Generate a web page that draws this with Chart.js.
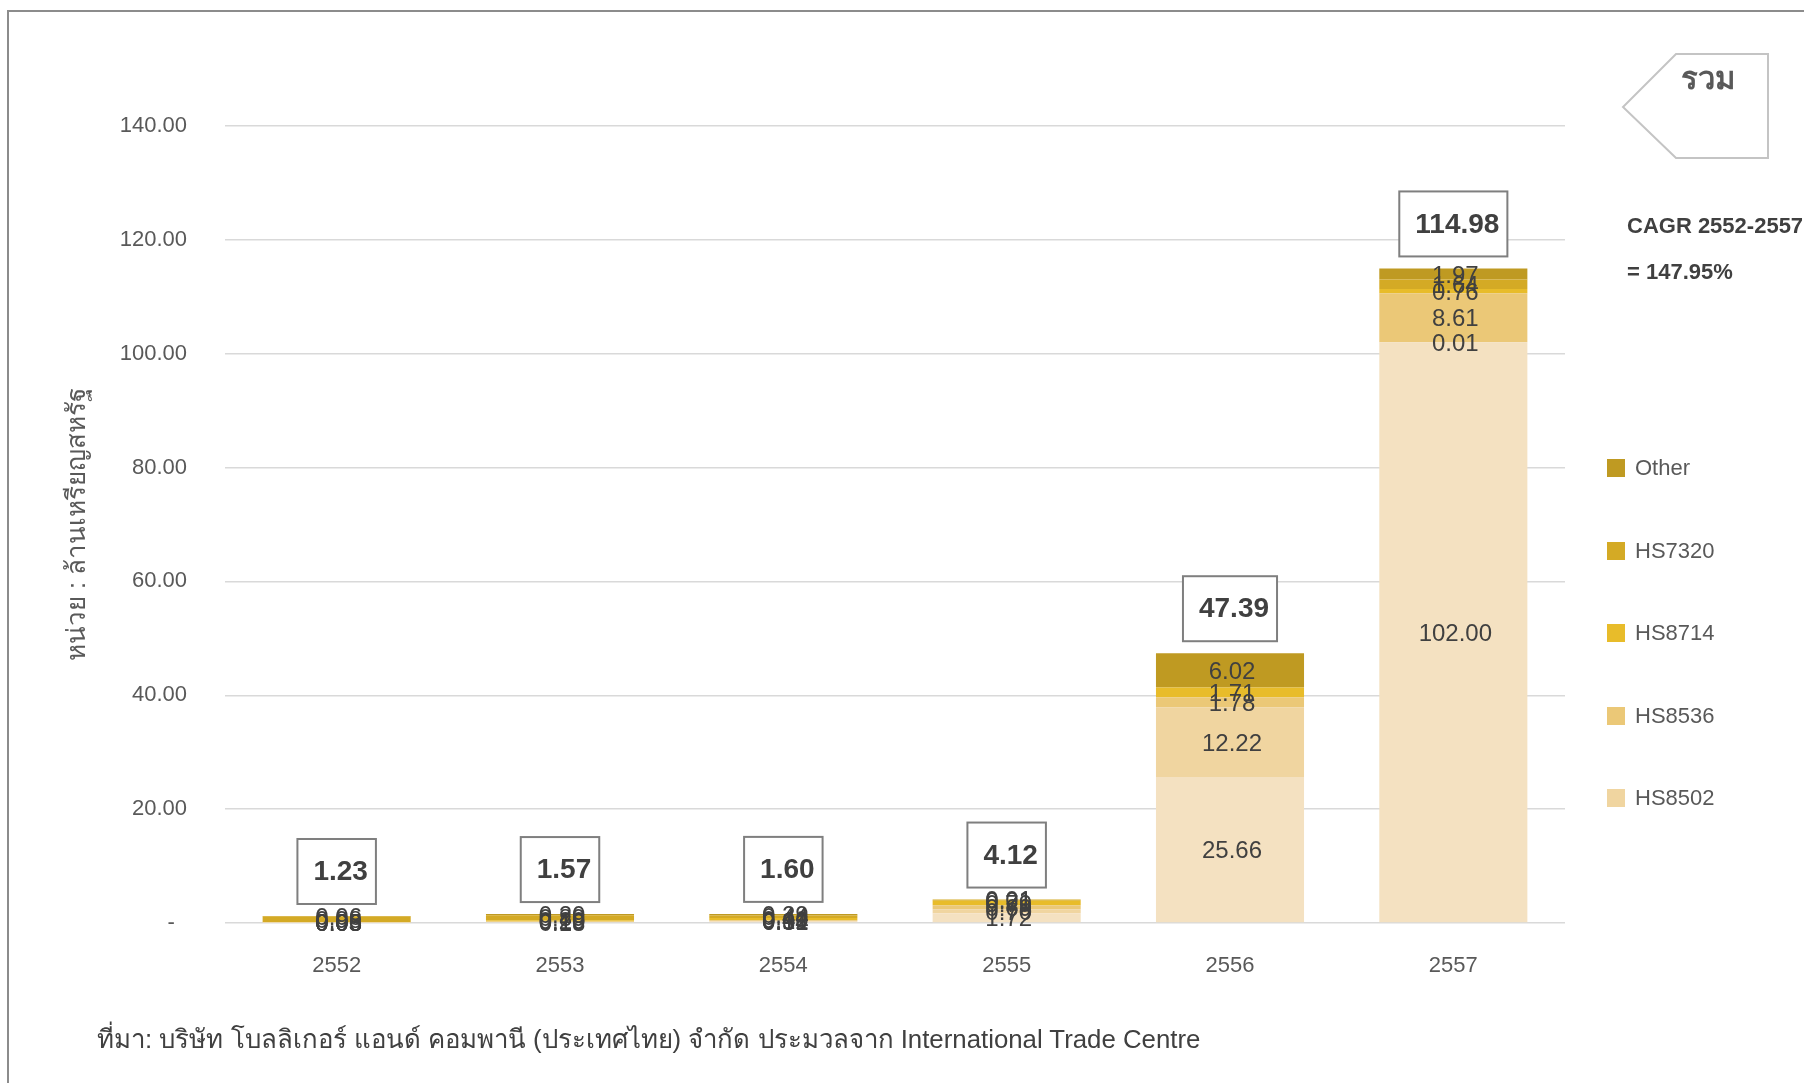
<!DOCTYPE html>
<html>
<head>
<meta charset="utf-8">
<script src="https://cdn.jsdelivr.net/npm/chart.js@4.4.0/dist/chart.umd.min.js"></script>
<style>
html, body { margin: 0; padding: 0; background: #fff; overflow: hidden; }
#wrap { position: relative; width: 1804px; height: 1083px; font-family: "Liberation Sans", Arial, sans-serif; }
#frame { position: absolute; left: 7px; top: 10px; width: 1830px; height: 1100px; border-left: 2px solid #8c8c8c; border-top: 2px solid #8c8c8c; }
#box { position: absolute; left: 0; top: 0; width: 1804px; height: 1083px; }
#tag { position: absolute; left: 1620px; top: 50px; }
#cagr { position: absolute; left: 1627px; top: 203px; font-size: 22px; font-weight: bold; color: #404040; line-height: 46px; white-space: nowrap; }
#legend { position: absolute; left: 1607px; top: 0; }
.item { position: absolute; left: 0; height: 26px; white-space: nowrap; font-size: 22px; color: #595959; }
.item span { display: inline-block; width: 18px; height: 18px; margin-right: 10px; vertical-align: -2px; }
#source { position: absolute; left: 97px; top: 1018px; font-size: 25.8px; color: #404040; white-space: nowrap; }
</style>
</head>
<body>
<div id="wrap">
  <div id="box"><canvas id="chart"></canvas></div>
  <div id="frame"></div>
  <svg id="tag" width="160" height="120">
    <polygon points="56,4 148,4 148,108 56,108 3,57" fill="#fff" stroke="#c4c4c4" stroke-width="2"/>
    <text x="88" y="39" text-anchor="middle" font-family="Liberation Sans, sans-serif" font-size="31" font-weight="bold" fill="#595959">รวม</text>
  </svg>
  <div id="cagr">CAGR 2552-2557<br>= 147.95%</div>
  <div id="legend"></div>
  <div id="source">ที่มา: บริษัท โบลลิเกอร์ แอนด์ คอมพานี (ประเทศไทย) จำกัด ประมวลจาก International Trade Centre</div>
</div>
<script>
const years = ['2552', '2553', '2554', '2555', '2556', '2557'];
const totals = [1.23, 1.57, 1.60, 4.12, 47.39, 114.98];
const base = [0.03, 0.18, 0.34, 1.72, 25.66, 102.00];
const hs8502 = [0.05, 0.00, 0.01, 0.70, 12.22, 0.01];
const hs8536 = [0.06, 0.10, 0.12, 0.69, 1.78, 8.61];
const hs8714 = [0.05, 0.20, 0.40, 0.79, 1.71, 0.76];
const hs7320 = [0.98, 0.89, 0.44, 0.21, 0.00, 1.64];
const other = [0.06, 0.20, 0.29, 0.01, 6.02, 1.97];
const yTicks = [0, 20, 40, 60, 80, 100, 120, 140];

const series = [
  { label: '', data: base, color: '#f4e1c1' },
  { label: 'HS8502', data: hs8502, color: '#f0d5a0' },
  { label: 'HS8536', data: hs8536, color: '#ebc877' },
  { label: 'HS8714', data: hs8714, color: '#e8bc2a' },
  { label: 'HS7320', data: hs7320, color: '#d4aa25' },
  { label: 'Other', data: other, color: '#bf9a22' }
];

const FONT = '"Liberation Sans", Arial, sans-serif';

// legend on the right, top item = last series
const legend = document.getElementById('legend');
let row = 0;
for (let i = series.length - 1; i >= 0; i--) {
  if (!series[i].label) continue;
  const d = document.createElement('div');
  d.className = 'item';
  d.style.top = (455 + row * 82.5) + 'px';
  d.innerHTML = '<span style="background:' + series[i].color + '"></span>' + series[i].label;
  legend.appendChild(d);
  row++;
}

const labels = {
  id: 'labels',
  afterDatasetsDraw(chart) {
    const ctx = chart.ctx;
    ctx.save();
    ctx.font = '24px ' + FONT;
    ctx.fillStyle = '#404040';
    ctx.textAlign = 'center';
    ctx.textBaseline = 'middle';
    chart.data.datasets.forEach((ds, di) => {
      chart.getDatasetMeta(di).data.forEach((bar, i) => {
        const v = ds.data[i];
        if (!v) return;
        const p = bar.getCenterPoint();
        ctx.fillText(v.toFixed(2), p.x + 2, p.y + 2);
      });
    });

    // boxed totals above each bar
    const xs = chart.scales.x, ys = chart.scales.y;
    ctx.font = 'bold 28px ' + FONT;
    totals.forEach((t, i) => {
      const txt = t.toFixed(2);
      const w = ctx.measureText(txt).width + 24;
      const cx = xs.getPixelForValue(i);
      const bottom = ys.getPixelForValue(t) - 12;
      const h = 65;
      ctx.fillStyle = '#fff';
      ctx.fillRect(cx - w / 2, bottom - h, w, h);
      ctx.strokeStyle = '#7f7f7f';
      ctx.lineWidth = 2;
      ctx.strokeRect(cx - w / 2, bottom - h, w, h);
      ctx.fillStyle = '#404040';
      ctx.fillText(txt, cx + 4, bottom - h / 2 + 1);
    });
    ctx.restore();
  }
};

new Chart(document.getElementById('chart'), {
  type: 'bar',
  data: {
    labels: years,
    datasets: series.map(s => ({
      label: s.label,
      data: s.data,
      backgroundColor: s.color,
      borderWidth: 0,
      barPercentage: 0.663,
      categoryPercentage: 1
    }))
  },
  options: {
    responsive: true,
    maintainAspectRatio: false,
    animation: false,
    layout: { padding: { left: 60, right: 239, top: 126, bottom: 0 } },
    plugins: { legend: { display: false }, tooltip: { enabled: false } },
    scales: {
      x: {
        stacked: true,
        grid: { display: false },
        border: { display: false },
        ticks: { color: '#595959', font: { family: FONT, size: 22 }, padding: 22 },
        afterFit: s => { s.height = 160; }
      },
      y: {
        stacked: true,
        min: 0,
        max: 140,
        afterBuildTicks: s => { s.ticks = yTicks.map(v => ({ value: v })); },
        grid: { color: '#d9d9d9', lineWidth: 1.5, drawTicks: false },
        border: { display: false },
        ticks: {
          color: '#595959',
          font: { family: FONT, size: 22 },
          padding: 38,
          callback: v => v === 0 ? '-  ' : v.toFixed(2)
        },
        title: {
          display: true,
          text: 'หน่วย : ล้านเหรียญสหรัฐ',
          color: '#595959',
          font: { family: FONT, size: 26 },
          padding: { top: 2, bottom: 0 }
        },
        afterFit: s => { s.width = 165; }
      }
    }
  },
  plugins: [labels]
});
</script>
</body>
</html>
